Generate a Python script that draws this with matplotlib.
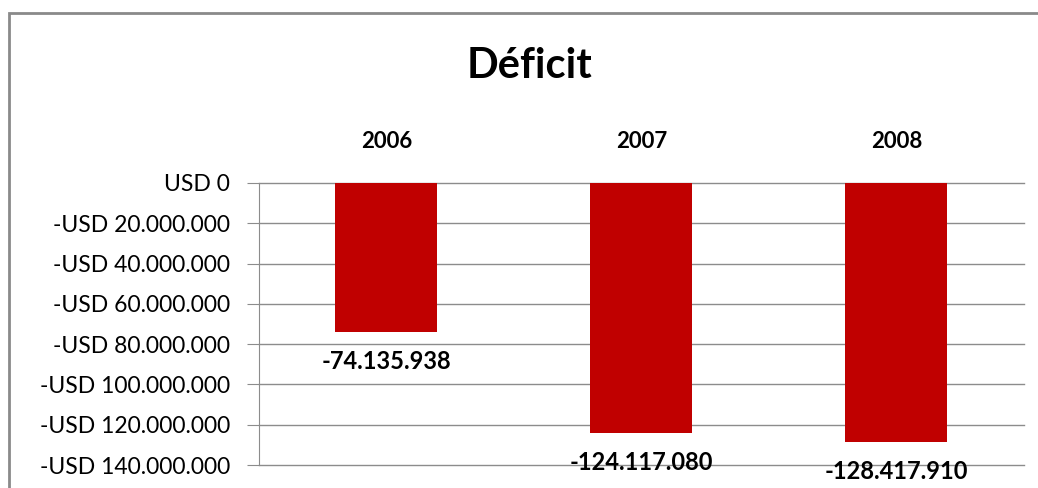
import matplotlib.pyplot as plt
from matplotlib.patches import Rectangle
from matplotlib.ticker import FuncFormatter

# Déficit anual
anos = ['2006', '2007', '2008']
deficit = [-74135938, -124117080, -128417910]
rotulos = ['-74.135.938', '-124.117.080', '-128.417.910']

plt.rcParams['font.family'] = ['Lato', 'DejaVu Sans']


def formata_usd(v, pos):
    n = f"{abs(int(round(v))):,}".replace(',', '.')
    return f"USD {n}" if v >= 0 else f"-USD {n}"


fig = plt.figure(figsize=(10.38, 4.88), dpi=100)
ax = fig.add_axes([0.2495, 0.0471, 0.737, 0.578])

# moldura do gráfico
fig.add_artist(Rectangle((0.0087, -0.2), 1.2, 0.9734 + 0.2, transform=fig.transFigure,
                         fill=False, edgecolor='#8a8a8a', linewidth=2))

x = range(len(anos))
ax.bar(x, deficit, width=0.4, color='#C00000', zorder=3)

ax.set_ylim(-140000000, 0)
ax.set_xlim(-0.5, 2.5)
ax.set_yticks(range(-140000000, 1, 20000000))
ax.yaxis.set_major_formatter(FuncFormatter(formata_usd))
ax.grid(axis='y', color='#8c8c8c', linewidth=1, zorder=0)
for linha in ax.get_ygridlines():
    linha.set_clip_on(False)

ax.xaxis.tick_top()
ax.set_xticks(list(x))
ax.set_xticklabels(anos, fontsize=16, fontweight='bold')
ax.tick_params(axis='x', length=0, pad=22)
ax.tick_params(axis='y', length=9, color='#8c8c8c', pad=12, labelsize=16.5)

for s in ['top', 'right', 'bottom']:
    ax.spines[s].set_visible(False)
ax.spines['left'].set_color('#8c8c8c')

for i, (v, r) in enumerate(zip(deficit, rotulos)):
    ax.annotate(r, (i, v), xytext=(0, -13), textcoords='offset points',
                ha='center', va='top', fontsize=17, fontweight='bold')

fig.text(0.51, 0.865, 'Déficit', ha='center', va='center', fontsize=30, fontweight='bold')

fig.savefig('out.png', dpi=100)
